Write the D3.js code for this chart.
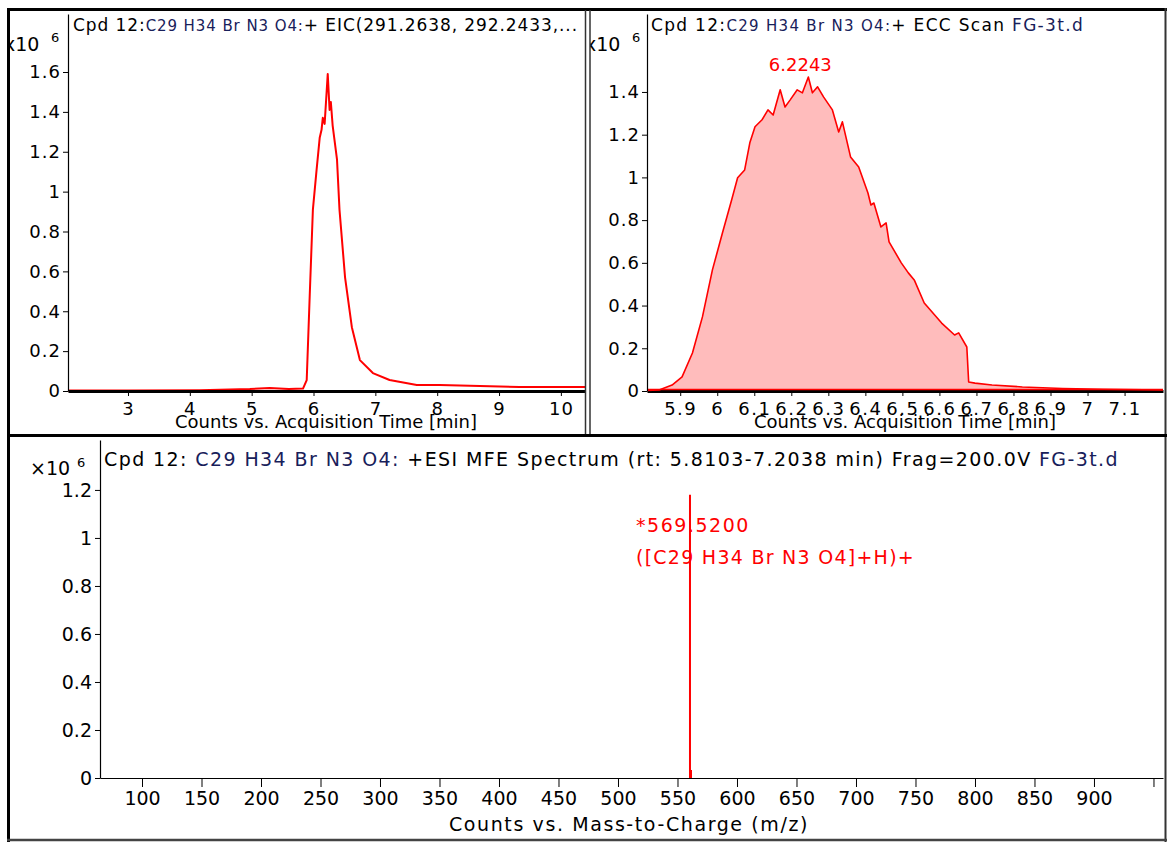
<!DOCTYPE html>
<html><head><meta charset="utf-8">
<script src="https://cdn.jsdelivr.net/npm/d3@7"></script>
<style>
body{margin:0;background:#fff}
svg{display:block}
text{font-family:"DejaVu Sans","Liberation Sans",Arial,sans-serif}
</style>
</head><body>
<svg id="chart" width="1167" height="842"></svg>
<script>
// ---------- DATA ----------
// EIC (top-left), counts x10^6 vs acquisition time (min)
const eicTime   = [2.03, 3.0, 4.16, 4.97, 5.29, 5.6, 5.83, 5.89, 5.94, 5.99, 6.05, 6.10, 6.13, 6.15, 6.18, 6.20, 6.23, 6.26, 6.28, 6.31, 6.38, 6.42, 6.51, 6.62, 6.75, 6.96, 7.23, 7.67, 8.04, 8.69, 9.33, 10.39];
const eicCounts = [0.003, 0.003, 0.004, 0.01, 0.015, 0.01, 0.012, 0.055, 0.49, 0.91, 1.11, 1.27, 1.31, 1.37, 1.34, 1.44, 1.59, 1.41, 1.45, 1.33, 1.16, 0.91, 0.57, 0.32, 0.155, 0.09, 0.055, 0.03, 0.03, 0.025, 0.02, 0.02];
const eicTicksX = [3, 4, 5, 6, 7, 8, 9, 10];
const eicTicksY = [0, 0.2, 0.4, 0.6, 0.8, 1, 1.2, 1.4, 1.6];

// ECC scan (top-right), counts x10^6 vs acquisition time (min)
const eccTime   = [5.8103, 5.843, 5.878, 5.905, 5.933, 5.960, 5.987, 6.014, 6.039, 6.055, 6.074, 6.088, 6.102, 6.121, 6.137, 6.151, 6.170, 6.183, 6.197, 6.216, 6.230, 6.246, 6.257, 6.271, 6.287, 6.311, 6.328, 6.338, 6.360, 6.382, 6.407, 6.415, 6.423, 6.442, 6.456, 6.464, 6.497, 6.516, 6.532, 6.559, 6.606, 6.641, 6.652, 6.674, 6.679, 6.696, 6.742, 6.824, 6.933, 7.042, 7.2038];
const eccCounts = [0.002, 0.005, 0.028, 0.066, 0.178, 0.347, 0.567, 0.740, 0.895, 0.998, 1.035, 1.162, 1.237, 1.270, 1.316, 1.292, 1.410, 1.330, 1.363, 1.410, 1.396, 1.470, 1.396, 1.424, 1.377, 1.316, 1.213, 1.260, 1.096, 1.049, 0.927, 0.871, 0.880, 0.768, 0.787, 0.698, 0.600, 0.553, 0.520, 0.412, 0.318, 0.262, 0.272, 0.206, 0.042, 0.037, 0.028, 0.019, 0.012, 0.008, 0.005];
const eccTicksX = [5.9, 6, 6.1, 6.2, 6.3, 6.4, 6.5, 6.6, 6.7, 6.8, 6.9, 7, 7.1];
const eccTicksY = [0, 0.2, 0.4, 0.6, 0.8, 1, 1.2, 1.4];
const eccPeakLabel = "6.2243";

// MFE spectrum (bottom), counts x10^6 vs m/z
const specMz        = [560.5];
const specIntensity = [1.18];
const specTicksX = [100, 150, 200, 250, 300, 350, 400, 450, 500, 550, 600, 650, 700, 750, 800, 850, 900, 950];
const specTicksY = [0, 0.2, 0.4, 0.6, 0.8, 1, 1.2];
const specPeakLabels = ["*569.5200", "([C29 H34 Br N3 O4]+H)+"];

const titleA = ["Cpd 12:", "C29 H34 Br N3 O4:", "+ EIC(291.2638, 292.2433,..."];
const titleB = ["Cpd 12:", "C29 H34 Br N3 O4:", "+ ECC Scan ", "FG-3t.d"];
const titleC = ["Cpd 12: ", "C29 H34 Br N3 O4:", " +ESI MFE Spectrum (rt: 5.8103-7.2038 min) Frag=200.0V ", "FG-3t.d"];
const xTitleTime = "Counts vs. Acquisition Time [min]";
const xTitleMz = "Counts vs. Mass-to-Charge (m/z)";

// ---------- DRAW ----------
const svg = d3.select("#chart");
const RED = "#ff0000", NAVY = "#18205a";
const fmt = v => String(+v.toFixed(2));

function fitWidth(sel, target) {
  const node = sel.node();
  const w = node.getComputedTextLength();
  const n = node.textContent.length;
  sel.style("letter-spacing", ((target - w) / n) + "px");
}

function styleAxis(g, fs, domainW, ls) {
  g.selectAll("text").attr("fill", "#000").style("font-size", fs + "px")
   .style("letter-spacing", (ls || 0) + "px")
   .style("font-family", '"DejaVu Sans","Liberation Sans",Arial,sans-serif');
  g.selectAll("line").attr("stroke", "#000");
  g.select(".domain").attr("stroke", "#000").attr("stroke-width", domainW);
}

function title(x, y, parts, colors, sizes, target) {
  const t = svg.append("text").attr("x", x).attr("y", y).attr("xml:space", "preserve");
  parts.forEach((p, i) => t.append("tspan").text(p).attr("fill", colors[i]).style("font-size", sizes[i] + "px"));
  if (target) fitWidth(t, target);
  return t;
}

// ---- Panel A: EIC ----
{
  const x = d3.scaleLinear().domain([2.03, 10.39]).range([68, 585]);
  const y = d3.scaleLinear().domain([0, 1.891]).range([391, 14]);
  const line = d3.line().x((d, i) => x(eicTime[i])).y(d => y(d));
  svg.append("path").datum(eicCounts).attr("d", line)
     .attr("fill", "none").attr("stroke", RED).attr("stroke-width", 2).attr("stroke-linejoin", "round");
  const gx = svg.append("g").attr("transform", "translate(0,391)")
     .call(d3.axisBottom(x).tickValues(eicTicksX).tickFormat(fmt).tickSize(5).tickPadding(6).tickSizeOuter(0));
  styleAxis(gx, 18, 3, 1);
  const gy = svg.append("g").attr("transform", "translate(68,0)")
     .call(d3.axisLeft(y).tickValues(eicTicksY).tickFormat(fmt).tickSize(5).tickPadding(2).tickSizeOuter(0));
  styleAxis(gy, 18, 1.2, 1);
  svg.append("text").attr("x", 326).attr("y", 428).attr("text-anchor", "middle")
     .style("font-size", "18px").text(xTitleTime).call(s => fitWidth(s, 302));
  svg.append("text").attr("x", 4).attr("y", 51).style("font-size", "19px").text("x10");
  svg.append("text").attr("x", 51).attr("y", 42).style("font-size", "13px").text("6");
  title(73, 31, titleA, ["#000", NAVY, "#000"], [17, 15, 17], 505);
}

// ---- Panel B: ECC ----
{
  const x = d3.scaleLinear().domain([5.8103, 7.2038]).range([647, 1163]);
  const y = d3.scaleLinear().domain([0, 1.765]).range([391, 14]);
  const area = d3.area().x((d, i) => x(eccTime[i])).y0(y(0)).y1(d => y(d));
  const line = d3.line().x((d, i) => x(eccTime[i])).y(d => y(d));
  svg.append("path").datum(eccCounts).attr("d", area).attr("fill", "#ffbcbc");
  const gx = svg.append("g").attr("transform", "translate(0,391)")
     .call(d3.axisBottom(x).tickValues(eccTicksX).tickFormat(fmt).tickSize(5).tickPadding(6).tickSizeOuter(0));
  styleAxis(gx, 18, 3, 1.5);
  svg.append("path").datum(eccCounts).attr("d", line)
     .attr("fill", "none").attr("stroke", RED).attr("stroke-width", 1.6).attr("stroke-linejoin", "round");
  svg.append("line").attr("x1", x(5.8103)).attr("x2", x(7.2038)).attr("y1", 389.5).attr("y2", 389.5)
     .attr("stroke", RED).attr("stroke-width", 1.5);
  const gy = svg.append("g").attr("transform", "translate(647,0)")
     .call(d3.axisLeft(y).tickValues(eccTicksY).tickFormat(fmt).tickSize(5).tickPadding(2).tickSizeOuter(0));
  styleAxis(gy, 18, 1.2, 1);
  svg.append("text").attr("x", 905).attr("y", 428).attr("text-anchor", "middle")
     .style("font-size", "18px").text(xTitleTime).call(s => fitWidth(s, 302));
  const iPk = eccCounts.indexOf(d3.max(eccCounts));
  svg.append("text").attr("x", x(6.2243)).attr("y", y(eccCounts[iPk]) - 6).attr("text-anchor", "middle")
     .attr("fill", RED).style("font-size", "18px").text(eccPeakLabel);
  svg.append("text").attr("x", 585).attr("y", 51).style("font-size", "19px").text("x10");
  svg.append("text").attr("x", 632).attr("y", 42).style("font-size", "13px").text("6");
  title(651, 31, titleB, ["#000", NAVY, "#000", NAVY], [17, 15, 17, 17], 433);
}

// ---- Panel C: spectrum ----
{
  const x = d3.scaleLinear().domain([64.7, 958]).range([100, 1163]);
  const y = d3.scaleLinear().domain([0, 1.408]).range([778, 440]);
  svg.selectAll(".stick").data(specMz).enter().append("line").attr("class", "stick")
     .attr("x1", d => x(d)).attr("x2", d => x(d)).attr("y1", y(0)).attr("y2", (d, i) => y(specIntensity[i]))
     .attr("stroke", RED).attr("stroke-width", 2);
  svg.selectAll(".stickfoot").data(specMz).enter().append("line").attr("class", "stickfoot")
     .attr("x1", d => x(d) + 1).attr("x2", d => x(d) + 1).attr("y1", y(0)).attr("y2", y(0) - 8)
     .attr("stroke", RED).attr("stroke-width", 2);
  const gx = svg.append("g").attr("transform", "translate(0,778)")
     .call(d3.axisBottom(x).tickValues(specTicksX).tickFormat(d => d > 900 ? "" : d).tickSize(9).tickPadding(5).tickSizeOuter(0));
  styleAxis(gx, 19, 1.2, 0);
  const gy = svg.append("g").attr("transform", "translate(100,0)")
     .call(d3.axisLeft(y).tickValues(specTicksY).tickFormat(fmt).tickSize(5).tickPadding(3).tickSizeOuter(0));
  styleAxis(gy, 19, 1.2, 0);
  svg.append("text").attr("x", 629).attr("y", 831).attr("text-anchor", "middle")
     .style("font-size", "19px").text(xTitleMz).call(s => fitWidth(s, 360));
  svg.append("text").attr("x", 636).attr("y", 532).attr("fill", RED).style("font-size", "19px")
     .text(specPeakLabels[0]).call(s => fitWidth(s, 114));
  svg.append("text").attr("x", 636).attr("y", 564).attr("fill", RED).style("font-size", "19px")
     .text(specPeakLabels[1]).call(s => fitWidth(s, 279));
  svg.append("text").attr("x", 30).attr("y", 475).style("font-size", "19px").text("×10");
  svg.append("text").attr("x", 77).attr("y", 467).style("font-size", "13px").text("6");
  title(104, 466, titleC, ["#000", NAVY, "#000", NAVY], [19, 19, 19, 19], 1015);
}

// ---- Frames ----
svg.append("rect").attr("x", 0).attr("y", 0).attr("width", 7).attr("height", 842).attr("fill", "#fff");
svg.append("rect").attr("x", 586).attr("y", 11).attr("width", 4).attr("height", 423).attr("fill", "#fff");
const fr = (x1, y1, x2, y2, w, c) => svg.append("line").attr("x1", x1).attr("y1", y1).attr("x2", x2).attr("y2", y2)
  .attr("stroke", c || "#000").attr("stroke-width", w);
fr(7, 9.5, 1167, 9.5, 3);
fr(8.5, 8, 8.5, 842, 3);
fr(585.5, 10, 585.5, 435, 1.5, "#333");
fr(590, 10, 590, 435, 1.5, "#333");
fr(1165.5, 8, 1165.5, 842, 2, "#333");
fr(7, 435.5, 1167, 435.5, 3);
fr(7, 840, 1167, 840, 2.5, "#444");
</script>
</body></html>
